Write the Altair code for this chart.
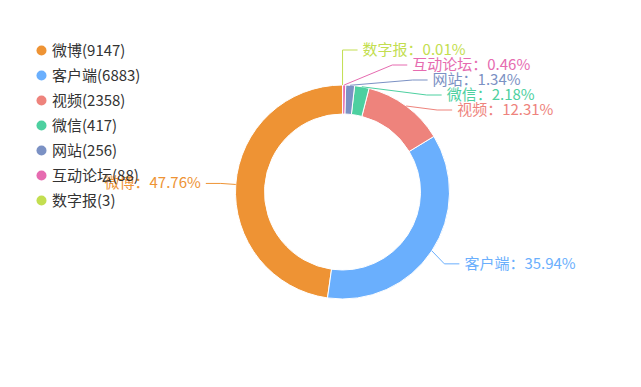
import math
import altair as alt
import pandas as pd

# ---- data ----
names = ["微博", "客户端", "视频", "微信", "网站", "互动论坛", "数字报"]
values = [9147, 6883, 2358, 417, 256, 88, 3]
colors = ["#ee9334", "#6aaffd", "#ee837c", "#4dd0a0", "#7b91c4", "#e66bb0", "#c3de50"]

FONT = "Noto Sans CJK SC"
FS = 15
W, H = 625, 371
CX, CY = 334.5, 184
R_OUT, R_IN = 107, 78
LEN1, LEN2, TXT_GAP = 15, 15, 5
LINE_H = 15
TOP_BOUND = 42

total = sum(values)
legend_labels = [f"{n}({v})" for n, v in zip(names, values)]
draw_order = list(range(len(names)))[::-1]   # clockwise from 12 o'clock

# percentages with largest-remainder rounding (2 decimals), sums to 100
digits = 100 * 100
quota = [v / total * digits for v in values]
seats = [math.floor(q) for q in quota]
rem = [q - s for q, s in zip(quota, seats)]
left = digits - sum(seats)
for k in sorted(range(len(values)), key=lambda j: -rem[j])[:left]:
    seats[k] += 1
pcts = [s / 100 for s in seats]

# ---- pie label layout (ECharts-like) ----
items = []
cum = 0
for rank, i in enumerate(draw_order):
    v = values[i]
    mid = (cum + v / 2) / total * 2 * math.pi
    cum += v
    sx, sy = math.sin(mid), -math.cos(mid)
    d = 1 if sx >= 0 else -1
    items.append(dict(
        i=i, rank=rank, dir=d,
        x0=CX + R_OUT * sx, y0=CY + R_OUT * sy,
        bx=CX + (R_OUT + LEN1) * sx, ly=CY + (R_OUT + LEN1) * sy,
    ))

def pav_layout(ys, gap):
    # minimal squared displacement subject to y[k+1]-y[k] >= gap
    z = [y - k * gap for k, y in enumerate(ys)]
    blocks = []
    for val in z:
        blocks.append([val, 1])
        while len(blocks) > 1 and blocks[-2][0] / blocks[-2][1] > blocks[-1][0] / blocks[-1][1]:
            s, c = blocks.pop()
            blocks[-1][0] += s
            blocks[-1][1] += c
    out = []
    for s, c in blocks:
        out += [s / c] * c
    return [o + k * gap for k, o in enumerate(out)]

rA = R_OUT + LEN1
for side in (1, -1):
    lst = sorted([it for it in items if it["dir"] == side], key=lambda t: t["ly"])
    if not lst:
        continue
    nat = [t["ly"] for t in lst]
    new = pav_layout(nat, LINE_H)
    if new[0] < TOP_BOUND:
        sh = TOP_BOUND - new[0]
        new = [y + sh for y in new]
    shifted = any(abs(a - b) > 1e-6 for a, b in zip(nat, new))
    for t, y in zip(lst, new):
        t["ly"] = y
    for t in lst:
        t["tx"] = t["bx"] + (LEN2 + TXT_GAP) * t["dir"]
    if shifted:
        for semi in ([t for t in lst if t["ly"] <= CY], [t for t in lst if t["ly"] > CY]):
            if not semi:
                continue
            far = max(semi, key=lambda t: abs(t["ly"] - CY))
            dy = abs(far["ly"] - CY)
            dx = far["tx"] - CX - LEN2 * side
            rB = math.sqrt(dy * dy / (1 - dx * dx / rA / rA)) if abs(dx) < rA else rA
            for t in semi:
                dyy = abs(t["ly"] - CY)
                dxe = math.sqrt(max(0.0, 1 - dyy * dyy / (rB * rB))) * rA
                t["tx"] = CX + (dxe + LEN2) * side

line_rows, text_rows = [], []
for t in items:
    i = t["i"]
    lab = legend_labels[i]
    end_x = t["tx"] - TXT_GAP * t["dir"]
    bend_x = end_x - LEN2 * t["dir"]
    pts = [(t["x0"], t["y0"]), (bend_x, t["ly"]), (end_x, t["ly"])]
    for k, (px, py) in enumerate(pts):
        line_rows.append(dict(legend=lab, pt=k, x=px, y=py))
    text_rows.append(dict(legend=lab, x=t["tx"], y=t["ly"],
                          side="R" if t["dir"] > 0 else "L",
                          text=f"{names[i]}：{pcts[i]:.2f}%"))

pie_df = pd.DataFrame({
    "legend": legend_labels,
    "value": values,
    "ord": [draw_order.index(i) for i in range(len(names))],
})
line_df = pd.DataFrame(line_rows)
text_df = pd.DataFrame(text_rows)

color_scale = alt.Scale(domain=legend_labels, range=colors)

arc = alt.Chart(pie_df).mark_arc(
    innerRadius=R_IN, outerRadius=R_OUT, stroke="white", strokeWidth=1
).encode(
    theta=alt.Theta("value:Q", stack=True),
    order=alt.Order("ord:Q"),
    color=alt.Color("legend:N", scale=color_scale, sort=legend_labels,
                    legend=alt.Legend(title=None, orient="none", legendX=26, legendY=35,
                                      symbolType="circle", symbolSize=100,
                                      symbolStrokeWidth=0,
                                      labelFont=FONT, labelFontSize=FS,
                                      labelColor="#333333", rowPadding=9,
                                      labelOffset=3)),
    x=alt.value(CX),
    y=alt.value(CY),
)

lines = alt.Chart(line_df).mark_line(strokeWidth=1).encode(
    x=alt.X("x:Q", scale=None, axis=None),
    y=alt.Y("y:Q", scale=None, axis=None),
    color=alt.Color("legend:N", scale=color_scale, legend=None),
    detail="legend:N",
    order=alt.Order("pt:Q"),
)

txt_r = alt.Chart(text_df).transform_filter(alt.datum.side == "R").mark_text(
    align="left", baseline="middle", font=FONT, fontSize=FS
).encode(
    x=alt.X("x:Q", scale=None, axis=None),
    y=alt.Y("y:Q", scale=None, axis=None),
    text="text:N",
    color=alt.Color("legend:N", scale=color_scale, legend=None),
)

txt_l = alt.Chart(text_df).transform_filter(alt.datum.side == "L").mark_text(
    align="right", baseline="middle", font=FONT, fontSize=FS
).encode(
    x=alt.X("x:Q", scale=None, axis=None),
    y=alt.Y("y:Q", scale=None, axis=None),
    text="text:N",
    color=alt.Color("legend:N", scale=color_scale, legend=None),
)

chart = alt.layer(arc, lines, txt_r, txt_l).properties(
    width=W, height=H, autosize="none", padding=0
).configure_view(stroke=None)

chart.save("out.html", embed_options={"renderer": "svg", "actions": False})
